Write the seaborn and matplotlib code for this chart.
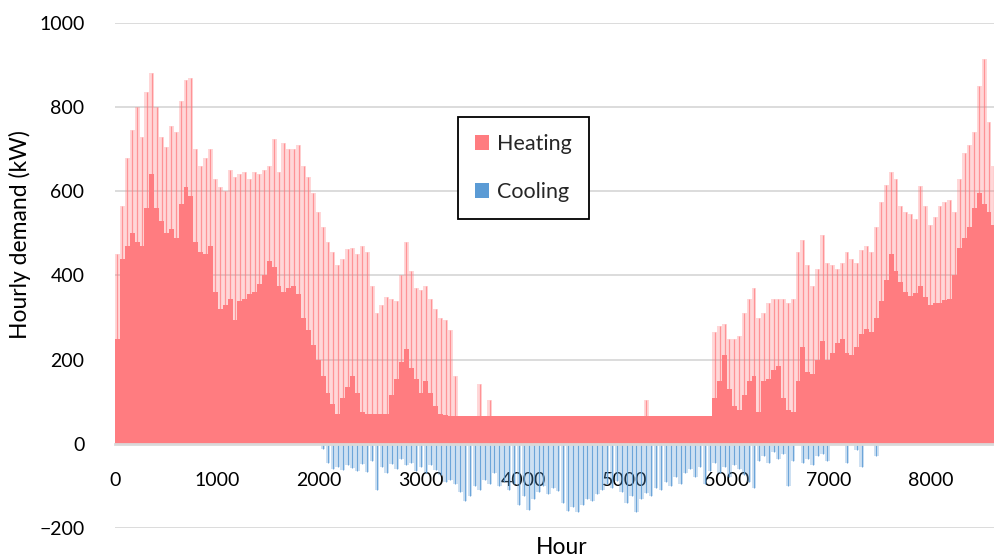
import numpy as np
import pandas as pd
import seaborn as sns
import matplotlib.pyplot as plt
from matplotlib.patches import Patch

# colours as in the original chart
HEAT = "#FF7C80"
COOL = "#5B9BD5"
GRID = "#D9D9D9"

# two-day blocks (48 h)
PERIOD = 48

# upper tip of the heating spikes in each block (kW)
heating_peak = [
    450, 565, 680, 745, 800, 730, 835, 880, 800, 730,
    705, 755, 740, 815, 865, 870, 700, 660, 680, 700,
    630, 610, 600, 650, 635, 640, 645, 630, 645, 640,
    650, 660, 725, 645, 715, 700, 700, 710, 660, 635,
    595, 550, 515, 480, 455, 425, 440, 462, 465, 450,
    470, 455, 375, 310, 330, 350, 345, 340, 400, 480,
    410, 370, 365, 375, 345, 320, 300, 295, 270, 160,
    67, 67, 67, 67, 143, 67, 103, 67, 67, 67,
    67, 67, 67, 67, 67, 67, 67, 67, 67, 67,
    67, 67, 67, 67, 67, 67, 67, 67, 67, 67,
    67, 67, 67, 67, 67, 67, 67, 67, 103, 67,
    67, 67, 67, 67, 67, 67, 67, 67, 67, 67,
    67, 67, 265, 280, 285, 250, 250, 255, 310, 345,
    370, 300, 310, 335, 345, 345, 345, 335, 345, 455,
    485, 425, 375, 415, 495, 430, 425, 415, 430, 455,
    440, 430, 460, 470, 455, 515, 575, 615, 645, 630,
    565, 550, 545, 535, 612, 565, 520, 540, 565, 575,
    580, 550, 630, 690, 710, 740, 850, 915, 765, 660,
]

# level of the solid part of the heating area in each block (kW)
heating_base = [
    250, 440, 470, 500, 480, 470, 560, 640, 560, 530,
    500, 510, 490, 570, 610, 590, 480, 455, 450, 470,
    360, 320, 330, 345, 295, 340, 345, 355, 360, 380,
    400, 435, 420, 375, 360, 370, 375, 355, 300, 270,
    235, 200, 160, 120, 95, 70, 110, 135, 160, 120,
    75, 70, 70, 70, 70, 70, 115, 155, 195, 225,
    180, 155, 120, 150, 120, 90, 70, 68, 67, 67,
    67, 67, 67, 67, 67, 67, 67, 67, 67, 67,
    67, 67, 67, 67, 67, 67, 67, 67, 67, 67,
    67, 67, 67, 67, 67, 67, 67, 67, 67, 67,
    67, 67, 67, 67, 67, 67, 67, 67, 67, 67,
    67, 67, 67, 67, 67, 67, 67, 67, 67, 67,
    67, 67, 110, 150, 210, 130, 90, 80, 115, 150,
    160, 75, 150, 155, 175, 185, 110, 80, 75, 150,
    230, 170, 165, 200, 245, 200, 215, 240, 248, 215,
    210, 230, 262, 272, 265, 300, 340, 390, 450, 410,
    385, 360, 352, 358, 375, 350, 330, 335, 335, 342,
    345, 400, 465, 490, 515, 560, 595, 570, 550, 520,
]

# deepest cooling value in each block, from hour 2016 on (kW)
COOLING_START = 2016
cooling_min = [
    -12, -45, -60, -55, -62, -50, -58, -65, -48, -67,
    -40, -110, -55, -70, -48, -60, -35, -50, -45, -65,
    -55, -70, -50, -62, -75, -90, -85, -95, -115, -137,
    -125, -100, -110, -85, -95, -70, -100, -90, -110, -95,
    -145, -125, -157, -130, -115, -100, -120, -105, -112, -140,
    -160, -150, -162, -145, -130, -137, -120, -110, -95, -105,
    -88, -115, -140, -125, -162, -130, -118, -125, -105, -110,
    -90, -100, -80, -95, -70, -60, -80, -55, -95, -65,
    -45, -70, -55, -80, -50, -60, -75, -90, -105, -40,
    -30, -45, -20, -35, -25, -100, -40, 0, -45, -35,
    -50, -30, -25, -40, 0, 0, 0, -45, 0, -15,
    -55, 0, 0, -30, 0, 0,
]

x_ticks = [0, 1000, 2000, 3000, 4000, 5000, 6000, 7000, 8000]
y_ticks = [-200, 0, 200, 400, 600, 800, 1000]

heat = pd.DataFrame({"peak": heating_peak, "base": heating_base})
heat["hour"] = np.arange(len(heat)) * PERIOD
edges = np.append(heat["hour"].values, heat["hour"].values[-1] + PERIOD)

cool = pd.DataFrame({"value": cooling_min})
cool["hour"] = COOLING_START + np.arange(len(cool)) * PERIOD
cool = cool[cool["value"] < 0]

sns.set_theme(style="white")
plt.rcParams["font.family"] = ["Lato", "DejaVu Sans"]

fig = plt.figure(figsize=(9.95, 5.59), dpi=100)
ax = fig.add_axes([0.1156, 0.0555, 0.8844, 0.9034])

# gridlines behind everything
for yv in y_ticks:
    ax.axhline(yv, color=GRID, lw=1.3, zorder=0)

# heating: light band up to the spikes, solid part below, spike lines
ax.stairs(heat["peak"], edges, baseline=heat["base"], fill=True,
          color=HEAT, alpha=0.3, lw=0, zorder=1)
sns.histplot(data=heat, x="hour", weights="base", binwidth=PERIOD,
             binrange=(0, edges[-1]), element="step", fill=True,
             color=HEAT, alpha=1.0, linewidth=0, ax=ax, zorder=2)
ax.vlines(heat["hour"] + PERIOD / 2, heat["base"], heat["peak"],
          color=HEAT, alpha=0.75, lw=0.9, zorder=2)

# cooling
ax.bar(cool["hour"] + PERIOD / 2, cool["value"], width=PERIOD * 0.95,
       color=COOL, alpha=0.3, lw=0, zorder=1)
ax.vlines(cool["hour"] + PERIOD / 2, 0, cool["value"],
          color=COOL, alpha=0.85, lw=0.8, zorder=2)

ax.set_xlim(0, 8627)
ax.set_ylim(-200, 1000)
ax.set_xticks(x_ticks)
ax.set_yticks(y_ticks)
ax.tick_params(axis="x", length=0, pad=20, labelsize=14, colors="black")
ax.tick_params(axis="y", length=0, pad=22, labelsize=14, colors="black")

for side in ["left", "top", "right"]:
    ax.spines[side].set_visible(False)
ax.spines["bottom"].set_position(("data", 0))
ax.spines["bottom"].set_color(GRID)
ax.spines["bottom"].set_linewidth(2)

ax.set_ylabel("Hourly demand (kW)", fontsize=16.5, color="black")
ax.yaxis.set_label_coords(-0.0955, 0.582)
ax.set_xlabel("Hour", fontsize=16.5, color="black")
ax.xaxis.set_label_coords(0.508, -0.018)

handles = [Patch(facecolor=HEAT, edgecolor="none", label="Heating"),
           Patch(facecolor=COOL, edgecolor="none", label="Cooling")]
leg = ax.legend(handles=handles, loc="upper left",
                bbox_to_anchor=(0.39, 0.814), fontsize=15.5,
                frameon=True, fancybox=False, framealpha=1,
                handlelength=0.65, handleheight=0.65, handletextpad=0.35,
                labelspacing=1.3, borderpad=0.8, borderaxespad=0)
leg.get_frame().set_edgecolor("black")
leg.get_frame().set_linewidth(1.3)
leg.set_zorder(5)

fig.savefig("out.png", dpi=100)
